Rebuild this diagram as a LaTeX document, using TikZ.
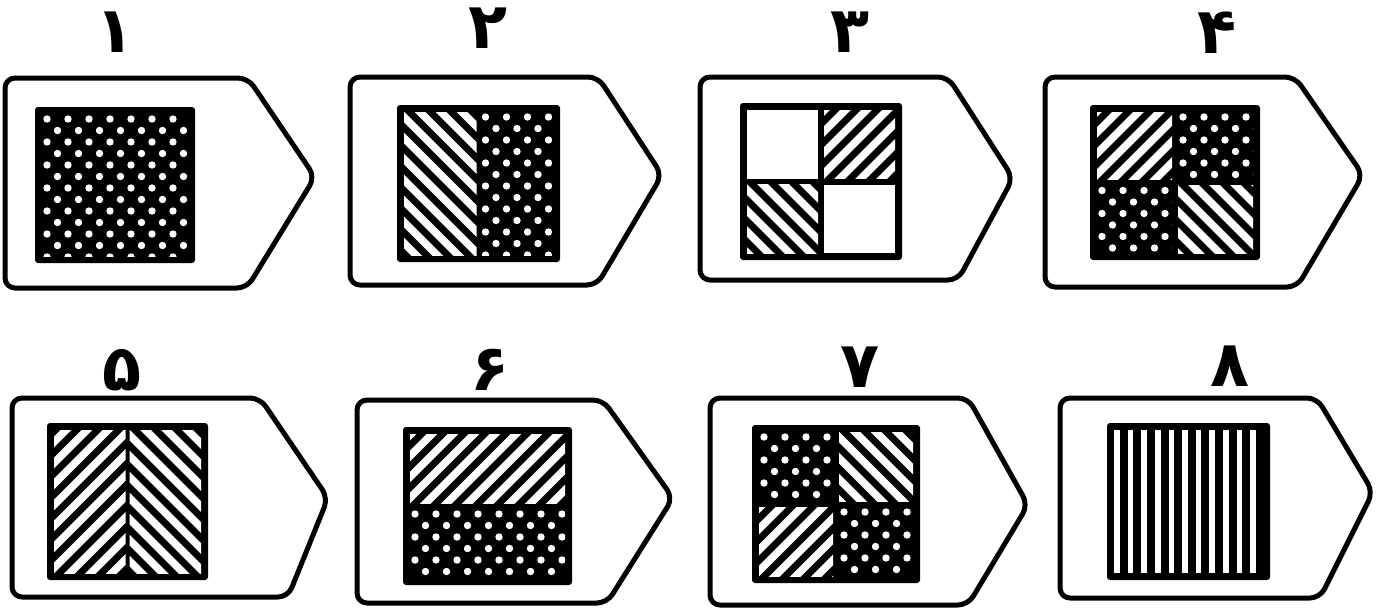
\documentclass[tikz,border=0pt]{standalone}
\usepackage{fontspec}
\newfontfamily\arabicfont[Script=Arabic]{DejaVu Sans}
\tikzset{
  card/.style={draw=black,line width=5pt,rounded corners=10pt,line join=round},
  lbl/.style={inner sep=0pt,font=\arabicfont\bfseries\fontsize{64}{66}\selectfont},
  wline/.style={white,line width=7.5pt},
}
% pattern macros: region x1 y1 x2 y2 (pixel coords, y down)
\newcommand\patW[4]{\fill[white] (#1,#2) rectangle (#3,#4);}
\newcommand\patNE[4]{\begin{scope}\clip (#1,#2) rectangle (#3,#4);
  \foreach \k in {0,...,20}{\draw[wline] ({#1-220+\k*21},{#4+5}) -- ++(240,-240);}
  \end{scope}}
\newcommand\patNW[4]{\begin{scope}\clip (#1,#2) rectangle (#3,#4);
  \foreach \k in {0,...,20}{\draw[wline] ({#1-220+\k*21},{#2-5}) -- ++(240,240);}
  \end{scope}}
\newcommand\patD[4]{\begin{scope}\clip (#1,#2) rectangle (#3,#4);
  \foreach \i in {0,...,9}{\foreach \j in {0,...,15}{
    \fill[white] ({#1+5+\i*21+mod(\j,2)*10.5},{#2+5+\j*11.5}) circle (3.7pt);}}
  \end{scope}}
\newcommand\patV[4]{\begin{scope}\clip (#1,#2) rectangle (#3,#4);
  \foreach \k in {0,...,12}{\draw[white,line width=5.5pt] ({#1+3+\k*13.6},#2) -- ({#1+3+\k*13.6},#4);}
  \end{scope}}
% inner squares
\newcommand\sqbase[4]{\fill[black,rounded corners=3pt] (#1,#2) rectangle (#3,#4);}
\newcommand\sqwhole[5]{\sqbase{#1}{#2}{#3}{#4}%
  \pgfmathsetmacro\xa{#1+7}\pgfmathsetmacro\xd{#3-7}%
  \pgfmathsetmacro\ya{#2+7}\pgfmathsetmacro\yd{#4-7}%
  #5{\xa}{\ya}{\xd}{\yd}}
\newcommand\sqquads[8]{\sqbase{#1}{#2}{#3}{#4}%
  \pgfmathsetmacro\xa{#1+7}\pgfmathsetmacro\xb{(#1+#3)/2-3}\pgfmathsetmacro\xc{(#1+#3)/2+3}\pgfmathsetmacro\xd{#3-7}%
  \pgfmathsetmacro\ya{#2+7}\pgfmathsetmacro\yb{(#2+#4)/2-3}\pgfmathsetmacro\yc{(#2+#4)/2+3}\pgfmathsetmacro\yd{#4-7}%
  #5{\xa}{\ya}{\xb}{\yb}#6{\xc}{\ya}{\xd}{\yb}#7{\xa}{\yc}{\xb}{\yd}#8{\xc}{\yc}{\xd}{\yd}}
\newcommand\sqcols[6]{\sqbase{#1}{#2}{#3}{#4}%
  \pgfmathsetmacro\xa{#1+7}\pgfmathsetmacro\xb{(#1+#3)/2-2}\pgfmathsetmacro\xc{(#1+#3)/2+2}\pgfmathsetmacro\xd{#3-7}%
  \pgfmathsetmacro\ya{#2+7}\pgfmathsetmacro\yd{#4-7}%
  #5{\xa}{\ya}{\xb}{\yd}#6{\xc}{\ya}{\xd}{\yd}}
\newcommand\sqrows[6]{\sqbase{#1}{#2}{#3}{#4}%
  \pgfmathsetmacro\xa{#1+7}\pgfmathsetmacro\xd{#3-7}%
  \pgfmathsetmacro\ya{#2+7}\pgfmathsetmacro\yb{(#2+#4)/2-3}\pgfmathsetmacro\yc{(#2+#4)/2+3}\pgfmathsetmacro\yd{#4-7}%
  #5{\xa}{\ya}{\xd}{\yb}#6{\xa}{\yc}{\xd}{\yd}}
% outer card: L T C P Py B C2
\newcommand\cardshape[7]{\draw[card] (#1,#2) -- (#3,#2) -- (#4,#5) -- (#7,#6) -- (#1,#6) -- cycle;}
\begin{document}
\begin{tikzpicture}[x=1pt,y=-1pt]
\useasboundingbox[fill=white] (0,0) rectangle (1379,611);
% row 1
\cardshape{5}{78}{248}{315}{177}{288}{247}
\sqwhole{35}{107}{195}{263}{\patD}
\node[lbl] (n1) at (115,32) {۱};

\cardshape{350}{77}{598}{662}{175}{285}{597}
\sqcols{397}{105}{560}{262}{\patNW}{\patD}
\node[lbl] (n2) at (488,28) {۲};

\cardshape{700}{77}{948}{1013}{178}{280}{958}
\sqquads{740}{103}{902}{260}{\patW}{\patNE}{\patNW}{\patW}
\node[lbl] (n3) at (850,32) {۳};

\cardshape{1045}{77}{1295}{1363}{175}{287}{1297}
\sqquads{1090}{105}{1260}{260}{\patNE}{\patD}{\patD}{\patNW}
\node[lbl] (n4) at (1217,33) {۴};
% row 2
\cardshape{12}{398}{260}{328}{498}{597}{288}
\sqcols{47}{423}{208}{580}{\patNE}{\patNW}
\node[lbl] (n5) at (122,370) {۵};

\cardshape{357}{400}{603}{673}{498}{603}{607}
\sqrows{403}{427}{572}{585}{\patNE}{\patD}
\node[lbl] (n6) at (490,370) {۶};

\cardshape{710}{398}{968}{1028}{505}{605}{968}
\sqquads{752}{425}{920}{583}{\patD}{\patNW}{\patNE}{\patD}
\node[lbl] (n7) at (860,367) {۷};

\cardshape{1060}{398}{1317}{1373}{492}{598}{1320}
\sqwhole{1107}{423}{1270}{580}{\patV}
\node[lbl] (n8) at (1230,366) {۸};
\end{tikzpicture}
\end{document}
